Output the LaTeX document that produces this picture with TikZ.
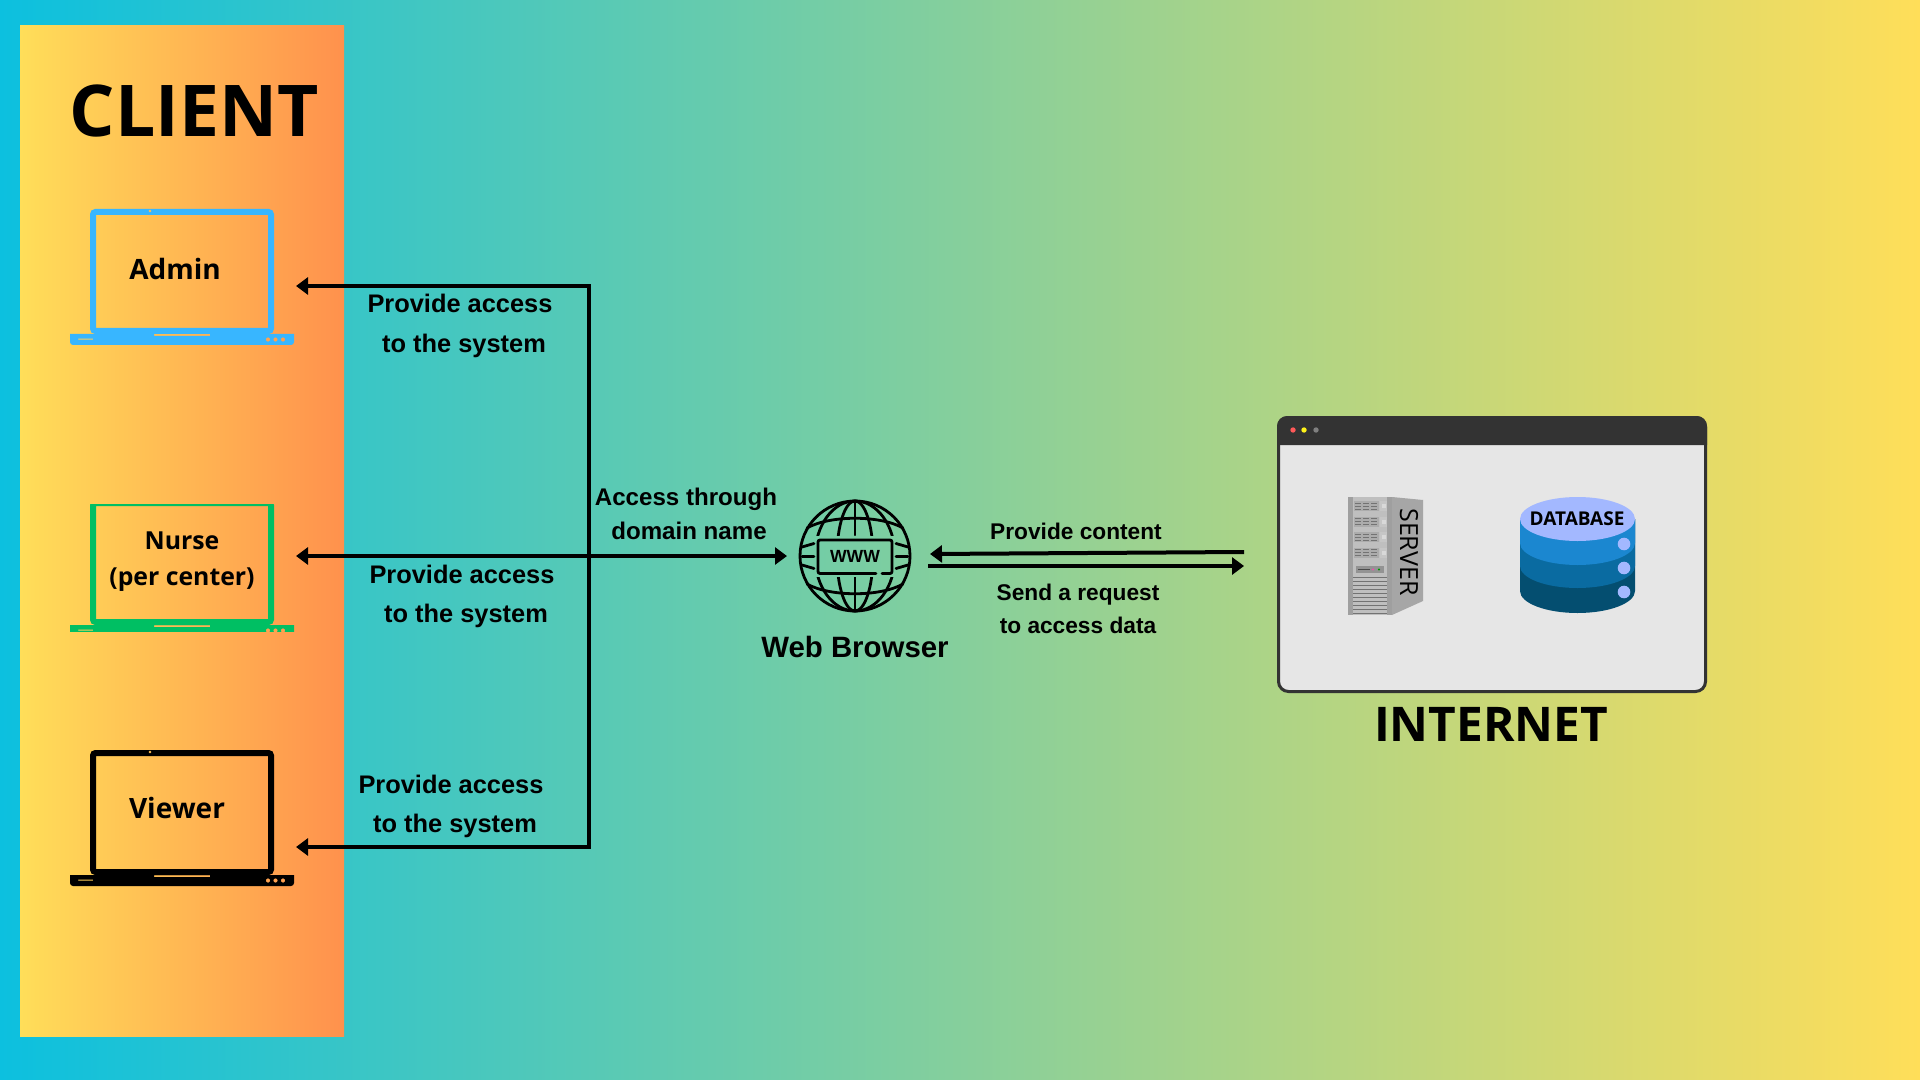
\documentclass[tikz,border=0pt]{standalone}
\usepackage{fontspec}
\usetikzlibrary{arrows.meta}
\setmainfont{Open Sans}
\newfontfamily\arrowfont{Liberation Sans}
\definecolor{cyanbg}{HTML}{0CC0DF}
\definecolor{yellowbg}{HTML}{FFDE59}
\definecolor{orangebg}{HTML}{FF914D}
\definecolor{adminblue}{HTML}{38B6FF}
\definecolor{nursegreen}{HTML}{00BF63}
\definecolor{windowdark}{HTML}{333333}
\definecolor{windowgrey}{HTML}{E6E6E6}
\definecolor{diskcap}{HTML}{A3B8FF}
\definecolor{diskone}{HTML}{1B87D0}
\definecolor{disktwo}{HTML}{0A6BA1}
\definecolor{diskthree}{HTML}{044E70}
\tikzset{
  fixedline/.style={inner sep=0pt,anchor=base},
  titletext/.style={fixedline,font=\bfseries\fontsize{35.7}{36}\selectfont},
  bigtext/.style={fixedline,font=\bfseries\fontsize{23.9}{24}\selectfont},
  usertext/.style={fixedline,font=\bfseries\fontsize{14}{14}\selectfont},
  nursetext/.style={fixedline,font=\bfseries\fontsize{12.4}{12.4}\selectfont},
  accesstext/.style={fixedline,font=\arrowfont\bfseries\fontsize{12.7}{12.7}\selectfont},
  throughtext/.style={fixedline,font=\arrowfont\bfseries\fontsize{12.05}{12.05}\selectfont},
  contenttext/.style={fixedline,font=\arrowfont\bfseries\fontsize{11.35}{11.35}\selectfont},
  flow/.style={line width=2pt,arrows={-{Triangle[length=6pt,width=8.5pt]}}},
  globeline/.style={line width=1.4pt,line cap=round},
}
% one laptop, #1 is the shift down from the top one
\newcommand{\laptop}[2]{
\begin{scope}[shift={(0,#1)}]
\fill[#2,even odd rule] [rounded corners=2.5pt] (90,209) rectangle (274,334) [sharp corners] (96,215) rectangle (268,328) (150,211) circle (1.7);
\fill[#2,even odd rule] (70,334) -- (294,334) -- (294,342) [rounded corners=1.5pt] -- (294,345) -- (70,345) [sharp corners] -- (70,342) -- cycle
  (154,334) rectangle (210,336) (78,338.6) rectangle (93,339.6)
  (268,339.5) circle (2.2) (275.5,339.5) circle (2.2) (283,339.5) circle (2.2);
\end{scope}
}
\begin{document}
\begin{tikzpicture}[x=0.5pt,y=-0.5pt]
\useasboundingbox (0,0) rectangle (1920,1080);
\shade[left color=cyanbg,right color=yellowbg] (0,0) rectangle (1920,1080);
\shade[left color=yellowbg,right color=orangebg] (20,26) rectangle (344,1036);

% client side
\node[titletext] (client) at (194,137) {CLIENT};
\laptop{0}{adminblue}
\begin{scope}
\clip (60,504) rectangle (300,631);
\laptop{291}{nursegreen}
\end{scope}
\laptop{541}{black}
\node[usertext] (admin) at (175,280) {Admin};
\node[nursetext] (nurse) at (182,549) {Nurse};
\node[nursetext] (percenter) at (182,585) {(per center)};
\node[usertext] (viewer) at (177,818) {Viewer};

% connectors
\coordinate (adminport) at (296,286);
\coordinate (nurseport) at (296,556);
\coordinate (viewerport) at (296,847);
\coordinate (bustop) at (589,286);
\coordinate (busbottom) at (589,847);
\coordinate (browserin) at (787,556);
\coordinate (browserback) at (930,554);
\coordinate (browserout) at (928,566);
\coordinate (webback) at (1244,552);
\coordinate (webin) at (1244,566);
\draw[flow] (busbottom) -- (bustop) -- (adminport);
\draw[flow] (bustop) -- (busbottom) -- (viewerport);
\draw[flow,arrows={{Triangle[length=6pt,width=8.5pt]}-{Triangle[length=6pt,width=8.5pt]}}] (nurseport) -- (browserin);
\draw[flow] (webback) -- (browserback);
\draw[flow] (browserout) -- (webin);

\foreach \n/\x/\y in {a/460/313,b/462/583,c/451/793} {
  \node[accesstext] (access\n) at (\x,\y) {Provide access};
  \node[accesstext] (system\n) at (\x+4,\y+39) {to the system};
}
\node[throughtext] (through) at (686,505) {Access through};
\node[throughtext] (domain) at (689,539) {domain name};
\node[contenttext] (content) at (1076,539) {Provide content};
\node[contenttext] (request) at (1078,600) {Send a request};
\node[contenttext] (data) at (1078,633) {to access data};

% globe
\begin{scope}[shift={(855,556)}]
\node[circle,draw,line width=1.4pt,minimum size=55pt,inner sep=0pt] (globe) at (0,0) {};
\foreach \s in {-1,1} {
  \begin{scope}
  \clip (-60,\s*21) rectangle (60,\s*60);
  \draw[globeline] (0,0) ellipse (18 and 55);
  \draw[globeline] (0,0) ellipse (40 and 55);
  \draw[globeline] (0,\s*21) -- (0,\s*55);
  \end{scope}
  \draw[globeline] (-48,\s*28) .. controls (-25,\s*41) and (25,\s*41) .. (48,\s*28);
  \draw[globeline] (-53,\s*9) -- (-41,\s*12.5);
  \draw[globeline] (53,\s*9) -- (41,\s*12.5);
}
\draw[globeline] (-53,0.7) -- (-41,0.7);
\draw[globeline] (53,0.7) -- (41,0.7);
\draw[globeline,rounded corners=1pt] (21,17.5) -- (-37,17.5) -- (-37,-16) -- (37,-16) -- (37,17.5) -- (27,17.5);
\node[inner sep=0pt,font=\arrowfont\bfseries\fontsize{8.8}{8.8}\selectfont] (www) at (0,0.5) {WWW};
\end{scope}
\node[fixedline,font=\arrowfont\bfseries\fontsize{14.7}{14.7}\selectfont] (browser) at (855,657) {Web Browser};

% internet window
\draw[windowdark,fill=windowgrey,line width=1.5pt,rounded corners=5pt] (1278.5,417.5) rectangle (1705.5,691.5);
\fill[windowdark] (1277,445) [rounded corners=5pt] -- (1277,416) -- (1707,416) [sharp corners] -- (1707,445) -- cycle;
\fill[red!65!white] (1293,430) circle (2.7);
\fill[yellow!90!white] (1304,430) circle (2.7);
\fill[gray] (1316,430) circle (2.7);
\node[bigtext] (internet) at (1491,741) {INTERNET};

% server
\fill[gray!70] (1392,497) -- (1423,500) -- (1423,601) -- (1392,615) -- cycle;
\fill[gray!75] (1348,497) rectangle (1392,615);
\fill[gray!50] (1353,497) rectangle (1387,615);
\foreach \y in {501,516.5,532,547.5} {
  \fill[gray!65] (1354,\y) rectangle (1379,\y+10);
  \fill[gray!45] (1380,\y) rectangle (1387,\y+10);
  \fill[gray!30] (1382,\y+3) rectangle (1385.5,\y+7);
  \foreach \x in {1355,1363,1371}
    \foreach \d in {2,5,8}
      \draw[black!55,line width=0.4pt] (\x,\y+\d) -- (\x+6,\y+\d);
}
\fill[gray!85] (1356,566) rectangle (1384,573);
\draw[black!70,line width=0.5pt] (1358,569.5) -- (1370,569.5);
\fill[magenta!70] (1373,569.5) circle (1.2);
\fill[green!60!black] (1379,569.5) circle (1.2);
\foreach \y in {577,581,...,613}
  \draw[black!55,line width=0.4pt] (1353,\y) -- (1387,\y);
\node[rotate=-90,inner sep=0pt,font=\fontsize{12.5}{12.5}\selectfont] (server) at (1409,552) {SERVER};

% database
\fill[diskthree] (1520,519) -- (1520,591) arc (180:0:57.5 and 22) -- (1635,519) -- cycle;
\fill[disktwo] (1520,519) -- (1520,566) arc (180:0:57.5 and 22) -- (1635,519) -- cycle;
\fill[diskone] (1520,519) -- (1520,543) arc (180:0:57.5 and 22) -- (1635,519) -- cycle;
\fill[diskcap] (1577.5,519) ellipse (57.5 and 22);
\foreach \y in {544,568,592}
  \fill[diskcap] (1624,\y) circle (6.3);
\node[fixedline,font=\bfseries\fontsize{9.5}{9.5}\selectfont] (database) at (1577,525) {DATABASE};
\end{tikzpicture}
\end{document}
